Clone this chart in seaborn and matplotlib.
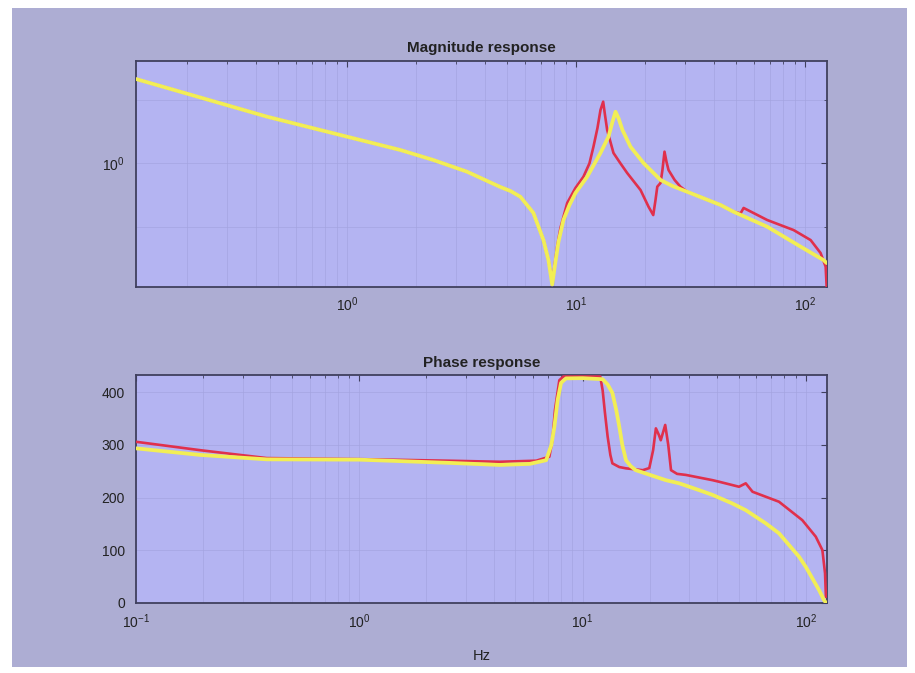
import numpy as np
import pandas as pd
import matplotlib
matplotlib.use("Agg")
import matplotlib.pyplot as plt
import seaborn as sns
from matplotlib.patches import Rectangle
from matplotlib.ticker import FixedLocator, NullFormatter, LogLocator

# ---------------- data ----------------
mag_freq_yellow = [0.12, 0.448, 1.0, 1.71, 2.38, 3.34, 4.67, 5.17, 5.71, 6.51, 7.2, 7.57, 7.86,
                   8.12, 8.37, 8.8, 9.35, 9.93, 11.17, 12.77, 13.84, 14.4, 14.85, 15.3, 15.93,
                   17.26, 19.67, 23.35, 26.3, 30.5, 42.7, 48.6, 68.2, 95.4, 120.2, 124.0]
mag_yellow = [2.52, 1.667, 1.339, 1.157, 1.037, 0.912, 0.771, 0.738, 0.693, 0.58, 0.431, 0.346, 0.265,
              0.339, 0.422, 0.537, 0.633, 0.722, 0.863, 1.12, 1.339, 1.573, 1.76, 1.643, 1.44,
              1.2, 1.003, 0.833, 0.78, 0.732, 0.633, 0.588, 0.499, 0.401, 0.346, 0.335]

mag_freq_red = [0.12, 0.448, 1.0, 1.71, 2.38, 3.34, 4.67, 5.17, 5.71, 6.51, 7.2, 7.57, 7.86,
                8.26, 8.54, 9.14, 9.93, 10.76, 11.43, 11.9, 12.39, 12.77, 13.12, 13.36, 13.66,
                14.55, 15.6, 16.7, 19.1, 20.7, 21.7, 22.2, 22.6, 23.35, 23.8, 24.3, 24.8, 25.3,
                26.9, 28.5, 30.5, 42.7, 48.6, 52.2, 53.8, 68.2, 88.9, 105.5, 116.6, 122.7, 124.0]
mag_red = [2.52, 1.667, 1.339, 1.157, 1.037, 0.912, 0.771, 0.738, 0.693, 0.58, 0.431, 0.346, 0.27,
           0.401, 0.492, 0.647, 0.763, 0.863, 1.0, 1.2, 1.473, 1.794, 1.965, 1.70, 1.44,
           1.12, 1.0, 0.899, 0.746, 0.621, 0.567, 0.669, 0.774, 0.806, 0.929, 1.136, 1.014, 0.929,
           0.833, 0.774, 0.732, 0.633, 0.588, 0.578, 0.613, 0.537, 0.481, 0.431, 0.374, 0.322, 0.255]

ph_freq_yellow = [0.1, 0.194, 0.385, 1.0, 2.5, 4.25, 5.8, 6.87, 7.25, 7.48, 7.73, 8.01, 8.43, 10.0,
                  12.3, 12.95, 13.6, 14.16, 14.6, 15.07, 15.65, 16.4, 17.3, 23.6, 27.1, 33.3,
                  38.2, 46.7, 53.8, 66.1, 75.8, 93.2, 100.0, 114.6, 120.6, 123.0]
ph_yellow = [293.5, 281, 272.6, 272, 266, 262, 264, 271, 300, 335, 385, 418, 426.6, 427,
             425, 415, 399, 366, 335, 300, 271, 260, 252, 233, 227, 214,
             205, 189, 176, 151, 132, 87.5, 68, 24, 5, 0]

ph_freq_red = [0.1, 0.194, 0.385, 1.0, 2.5, 4.25, 6.2, 7.1, 7.33, 7.52, 7.87, 8.2, 10.0, 12.0,
               12.3, 12.59, 12.95, 13.32, 13.6, 14.6, 15.65, 18.6, 19.9, 20.7, 21.3, 21.97,
               22.4, 23.45, 24.2, 24.9, 26.5, 29.0, 38.2, 40.9, 50.2, 53.8, 57.7, 75.8, 96.4,
               110.8, 118.6, 121.9, 123.0]
ph_red = [306, 290, 275, 273, 270, 268, 270, 277.6, 309, 366, 423, 430, 430, 430,
          404, 362, 316, 281, 265, 258, 255.5, 252, 256, 290, 331.5, 319,
          309, 338, 300, 252, 245, 243, 233, 230, 220.5, 227, 211, 192, 157,
          125.5, 100, 56, 11]

# ---------------- style ----------------
FRAME = "#ADADD3"
AXBG = "#B4B4F2"
GRID = "#A2A2DE"
SPINE = "#40405E"
RED = "#E0304C"
YELLOW = "#F2EE55"
TXT = "#222222"

sns.set_style("white")
plt.rcParams["font.family"] = ["Liberation Sans", "DejaVu Sans"]
plt.rcParams["mathtext.fontset"] = "custom"
plt.rcParams["mathtext.rm"] = "Liberation Sans"

fig = plt.figure(figsize=(9.15, 6.73), dpi=100, facecolor="white")
fig.patches.append(Rectangle((12 / 915, 1 - 667 / 673), (907 - 12) / 915, (667 - 8) / 673,
                             transform=fig.transFigure, facecolor=FRAME, edgecolor="none",
                             zorder=-10))

ax1 = fig.add_axes([136 / 915, 1 - 286.7 / 673, (826.7 - 136) / 915, (286.7 - 60.7) / 673])
ax2 = fig.add_axes([136 / 915, 1 - 602.7 / 673, (826.7 - 136) / 915, (602.7 - 375) / 673])

df_my = pd.DataFrame({"f": mag_freq_yellow, "v": mag_yellow})
df_mr = pd.DataFrame({"f": mag_freq_red, "v": mag_red})
df_py = pd.DataFrame({"f": ph_freq_yellow, "v": ph_yellow})
df_pr = pd.DataFrame({"f": ph_freq_red, "v": ph_red})

for ax in (ax1, ax2):
    ax.set_facecolor(AXBG)
    ax.set_xscale("log")

sns.lineplot(data=df_mr, x="f", y="v", ax=ax1, color=RED, lw=1.9, estimator=None, sort=False, zorder=3)
sns.lineplot(data=df_my, x="f", y="v", ax=ax1, color=YELLOW, lw=2.7, estimator=None, sort=False, zorder=4)
sns.lineplot(data=df_pr, x="f", y="v", ax=ax2, color=RED, lw=1.9, estimator=None, sort=False, zorder=3)
sns.lineplot(data=df_py, x="f", y="v", ax=ax2, color=YELLOW, lw=2.7, estimator=None, sort=False, zorder=4)

for ln in ax1.lines + ax2.lines:
    ln.set_solid_joinstyle("round")
    ln.set_solid_capstyle("round")

ax1.set_yscale("log")
ax1.set_xlim(0.12, 124)
ax1.set_ylim(0.2585, 3.08)
ax1.yaxis.set_major_locator(FixedLocator([1.0]))
ax1.yaxis.set_minor_locator(FixedLocator([0.5, 2.0]))
ax1.yaxis.set_minor_formatter(NullFormatter())

ax2.set_xlim(0.1, 124)
ax2.set_ylim(0, 433)
ax2.set_yticks([0, 100, 200, 300, 400])

for ax in (ax1, ax2):
    ax.xaxis.set_major_locator(LogLocator(base=10, numticks=10))
    ax.xaxis.set_minor_locator(LogLocator(base=10, subs=np.arange(2, 10), numticks=20))
    ax.xaxis.set_minor_formatter(NullFormatter())
    ax.grid(True, which="both", color=GRID, lw=0.5, alpha=0.8)
    ax.set_axisbelow(True)
    for s in ax.spines.values():
        s.set_visible(True)
        s.set_color(SPINE)
        s.set_linewidth(1.3)
    ax.tick_params(which="both", direction="in", top=True, right=True, color=SPINE,
                   labelcolor=TXT, labelsize=10)
    ax.tick_params(which="major", length=4, width=0.8)
    ax.tick_params(which="minor", length=2.5, width=0.6)
    ax.tick_params(axis="y", which="major", pad=8)
    ax.set_xlabel("")
    ax.set_ylabel("")

ax2.tick_params(axis="x", which="major", pad=7)
ax1.tick_params(axis="x", which="major", pad=6)

ax1.set_title("Magnitude response", fontsize=11, fontweight="bold", color=TXT, pad=6)
ax2.set_title("Phase response", fontsize=11, fontweight="bold", color=TXT, pad=6)
ax2.set_xlabel("Hz", fontsize=10.5, color=TXT, labelpad=13)

fig.savefig("out.png", dpi=100, facecolor="white")
